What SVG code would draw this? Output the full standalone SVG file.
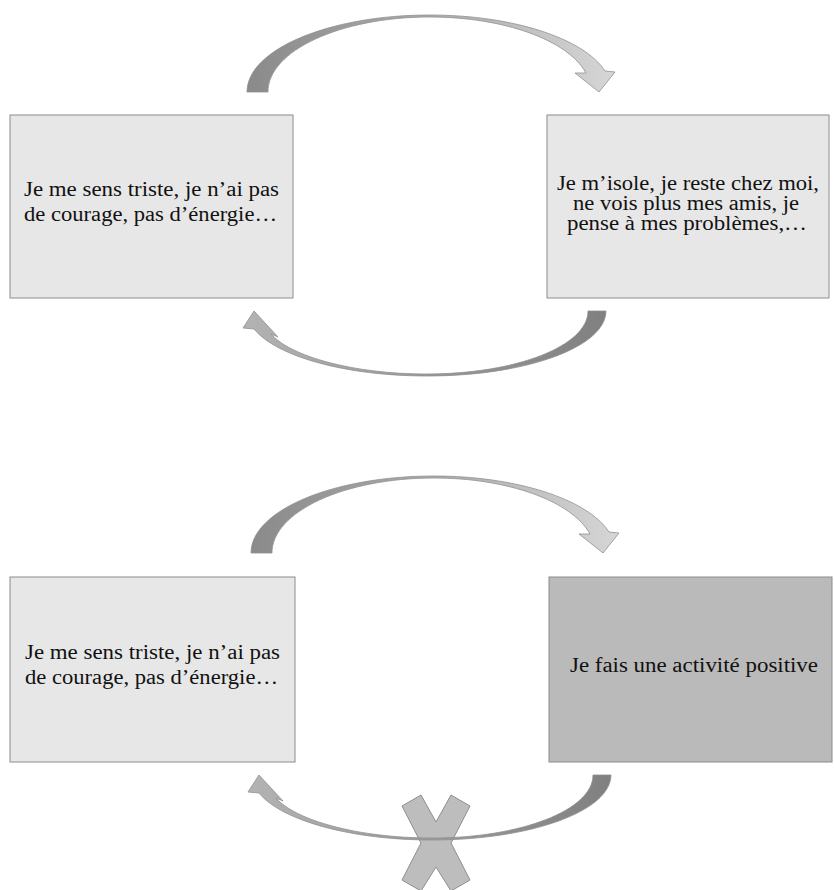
<svg xmlns="http://www.w3.org/2000/svg" width="834" height="890" viewBox="0 0 834 890">
<style>
.box{fill:#e7e7e7;stroke:#8c8c8c;stroke-width:1}
.box.dark{fill:#bababa}
.t{font-family:"Liberation Serif","Times New Roman",serif;font-size:20.5px;fill:#111}
.arr{stroke:#909090;stroke-width:0.8}
.cw{fill:url(#gcw)}
.ccw{fill:url(#gccw)}
.x{fill:#bdbdbd;stroke:#8e8e8e;stroke-width:1}
</style>
<defs>
<linearGradient id="gcw" x1="0" y1="0" x2="1" y2="0">
<stop offset="0" stop-color="#8a8a8a"/>
<stop offset="0.5" stop-color="#ababab"/>
<stop offset="1" stop-color="#d6d6d6"/>
</linearGradient>
<linearGradient id="gccw" x1="1" y1="0" x2="0" y2="0">
<stop offset="0" stop-color="#808080"/>
<stop offset="1" stop-color="#b3b3b3"/>
</linearGradient>
<path id="arrTop" d="M247,92 C247,49.5 329,15 430,15 C511.6,15 583.7,38 605,71 L615,72 L599,92 L575,73 L586,73 C568,40 503.5,17 430,17 C340.6,17 268,50.6 268,92 Z"/>
<path id="arrBot" d="M606,311 C606,347 526,376 427,376 C347,376 277,357 254,329 L243,328 L254,311 L278,337 L271,334 C290,356 352,374 427,374 C516,374 588,346 588,311 Z"/>
</defs>

<g id="node-triste-1">
<rect class="box" x="10" y="115" width="283" height="183"/>
<text class="t" x="24" y="196" textLength="255" lengthAdjust="spacingAndGlyphs">Je me sens triste, je n’ai pas</text>
<text class="t" x="24" y="221" textLength="253" lengthAdjust="spacingAndGlyphs">de courage, pas d’énergie…</text>
</g>

<g id="node-isole">
<rect class="box" x="547" y="115" width="282" height="183"/>
<text class="t" x="557" y="190" textLength="262" lengthAdjust="spacingAndGlyphs">Je m’isole, je reste chez moi,</text>
<text class="t" x="573" y="210" textLength="226" lengthAdjust="spacingAndGlyphs">ne vois plus mes amis, je</text>
<text class="t" x="567" y="230" textLength="240" lengthAdjust="spacingAndGlyphs">pense à mes problèmes,…</text>
</g>

<g id="node-triste-2">
<rect class="box" x="10" y="577" width="285" height="185"/>
<text class="t" x="25" y="659" textLength="255" lengthAdjust="spacingAndGlyphs">Je me sens triste, je n’ai pas</text>
<text class="t" x="25" y="684" textLength="253" lengthAdjust="spacingAndGlyphs">de courage, pas d’énergie…</text>
</g>

<g id="node-activite">
<rect class="box dark" x="549" y="577" width="283" height="185"/>
<text class="t" x="570" y="672" textLength="248" lengthAdjust="spacingAndGlyphs">Je fais une activité positive</text>
</g>

<g id="cross">
<polygon class="x" points="402,806 421,795 436,822 451,795 470,806 451,843 470,880 451,891 436,867 421,891 402,880 421,843"/>
</g>

<g id="connectors">
<use href="#arrTop" class="arr cw"/>
<use href="#arrBot" class="arr ccw"/>
<use href="#arrTop" class="arr cw" transform="translate(4,461)"/>
<use href="#arrBot" class="arr ccw" transform="translate(5,464)"/>
</g>
</svg>
